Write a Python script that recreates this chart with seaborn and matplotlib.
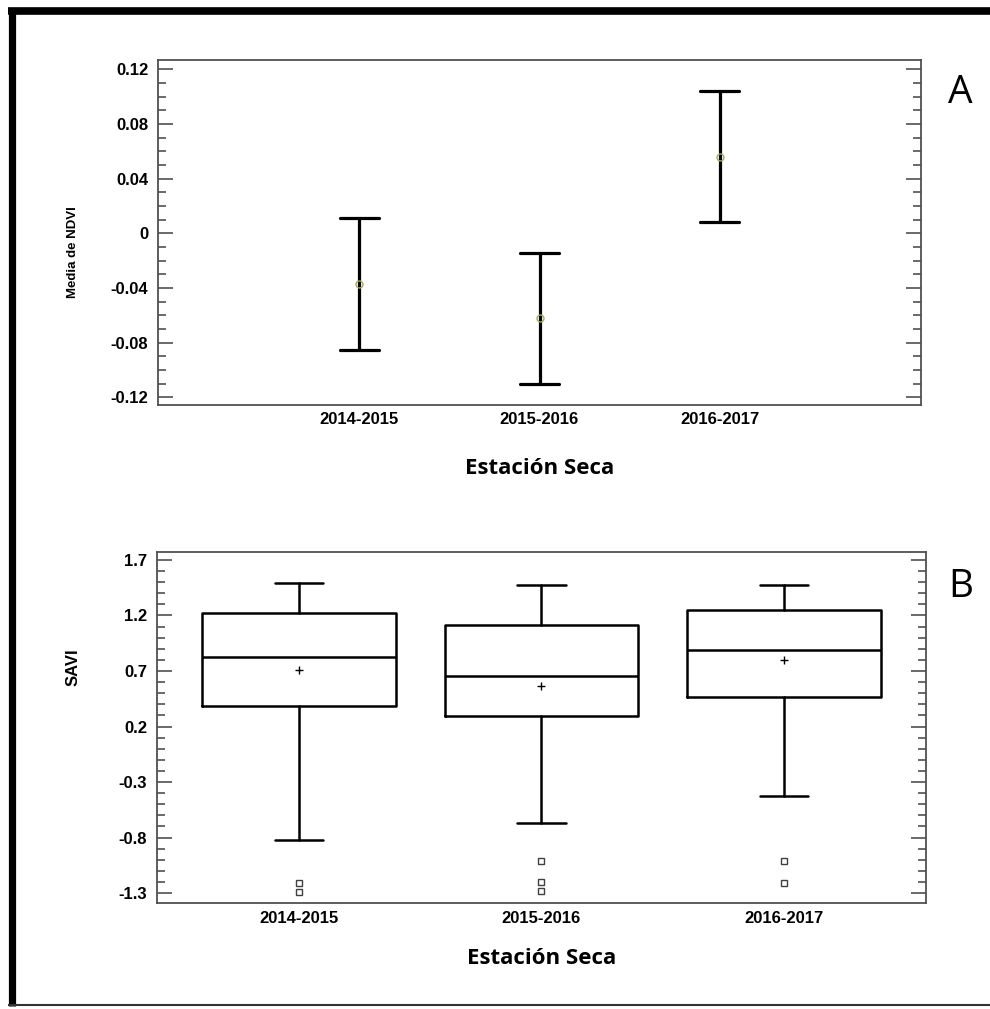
import numpy as np
import pandas as pd
import matplotlib
matplotlib.use("Agg")
import matplotlib.pyplot as plt
import seaborn as sns
from matplotlib.ticker import FixedLocator, FuncFormatter
from matplotlib.lines import Line2D

# ---------------- data ----------------
periods = ["2014-2015", "2015-2016", "2016-2017"]

# Panel A: interval limits of the NDVI mean (centre = mean)
ndvi_low = [-0.085, -0.110, 0.008]
ndvi_high = [0.011, -0.014, 0.104]
ndvi_ticks = [-0.12, -0.08, -0.04, 0.0, 0.04, 0.08, 0.12]

# Panel B: SAVI box-plot summaries
savi_whislo = [-0.823, -0.669, -0.425]
savi_q1 = [0.389, 0.299, 0.470]
savi_median = [0.823, 0.651, 0.886]
savi_q3 = [1.221, 1.112, 1.248]
savi_whishi = [1.492, 1.474, 1.474]
savi_mean = [0.705, 0.561, 0.796]
savi_outliers = [[-1.211, -1.293], [-1.012, -1.202, -1.284], [-1.012, -1.211]]
savi_ticks = [-1.3, -0.8, -0.3, 0.2, 0.7, 1.2, 1.7]

xlabel_text = "Estación Seca"

# ---------------- style ----------------
sns.set_style("white")
plt.rcParams["font.family"] = ["Liberation Sans", "DejaVu Sans"]
plt.rcParams["text.color"] = "black"
plt.rcParams["axes.labelcolor"] = "black"
spine_col = "#505050"

W, H = 990, 1009
fig = plt.figure(figsize=(W / 100, H / 100), dpi=100)


def fx(px):
    return px / W


def fy(py):
    return 1 - py / H


ax1 = fig.add_axes([fx(158), fy(405), fx(921) - fx(158), fy(60) - fy(405)])
ax2 = fig.add_axes([fx(157), fy(903), fx(926) - fx(157), fy(552) - fy(903)])

# ---------------- panel A ----------------
df_a = pd.DataFrame({"period": periods + periods, "ndvi": ndvi_low + ndvi_high})
sns.pointplot(
    data=df_a, x="period", y="ndvi", order=periods, estimator="mean",
    errorbar=("pi", 100), capsize=0.217, color="black", linestyle="none",
    marker="o", markersize=5, markerfacecolor="none", markeredgecolor="#a4aa5c",
    markeredgewidth=1.0, err_kws={"linewidth": 2.3, "color": "black"},
    ax=ax1,
)
for ln in ax1.lines:
    if ln.get_marker() not in (None, "None", "", " "):
        ln.set_zorder(5)
ax1.set_xlim(-1.117, 3.117)
ax1.set_ylim(-0.1255, 0.1268)
ax1.yaxis.set_major_locator(FixedLocator(ndvi_ticks))
ax1.yaxis.set_minor_locator(FixedLocator(np.round(np.arange(-0.12, 0.1201, 0.01), 3)))
ax1.yaxis.set_major_formatter(FuncFormatter(lambda v, p: "0" if abs(v) < 1e-9 else f"{v:.2f}"))
ax1.set_ylabel("Media de NDVI", fontsize=9.5, fontweight="bold")
ax1.yaxis.set_label_coords(-0.104, 0.443)
ax1.set_xlabel("")

# ---------------- panel B ----------------
stats = []
for i, p in enumerate(periods):
    stats.append(dict(label=p, whislo=savi_whislo[i], q1=savi_q1[i], med=savi_median[i],
                      q3=savi_q3[i], whishi=savi_whishi[i], mean=savi_mean[i],
                      fliers=np.array(savi_outliers[i])))
lw = 1.8
ax2.bxp(stats, positions=range(len(periods)), widths=0.8, capwidths=0.2,
        showmeans=True, showfliers=True, patch_artist=False,
        boxprops=dict(color="black", linewidth=lw),
        whiskerprops=dict(color="black", linewidth=lw),
        capprops=dict(color="black", linewidth=lw),
        medianprops=dict(color="black", linewidth=lw),
        meanprops=dict(marker="+", markeredgecolor="black", markersize=6, markeredgewidth=1.0),
        flierprops=dict(marker="s", markerfacecolor="none", markeredgecolor="#404040",
                        markersize=5, markeredgewidth=1.0))
ax2.set_xlim(-0.587, 2.587)
ax2.set_ylim(-1.39, 1.772)
ax2.yaxis.set_major_locator(FixedLocator(savi_ticks))
ax2.yaxis.set_minor_locator(FixedLocator(np.round(np.arange(-1.3, 1.7001, 0.1), 2)))
ax2.yaxis.set_major_formatter(FuncFormatter(lambda v, p: f"{v:.1f}"))
ax2.set_ylabel("SAVI", fontsize=12, fontweight="bold")
ax2.yaxis.set_label_coords(-0.100, 0.672)

# ---------------- common axis styling ----------------
for ax, xpad, xl_y in ((ax1, 5, -0.155), (ax2, 6, -0.128)):
    for s in ax.spines.values():
        s.set_color(spine_col)
        s.set_linewidth(1.3)
    ax.tick_params(axis="y", which="both", direction="in", left=True, right=True,
                   labelleft=True, labelright=False, color=spine_col, width=1.2, pad=7,
                   labelcolor="black")
    ax.tick_params(axis="y", which="major", length=10.8)
    ax.tick_params(axis="y", which="minor", length=5.8)
    ax.tick_params(axis="x", which="both", length=0, pad=xpad, labelcolor="black")
    for t in ax.get_yticklabels() + ax.get_xticklabels():
        t.set_fontsize(12)
        t.set_fontweight("bold")
    ax.set_xlabel(xlabel_text, fontsize=16, fontweight="bold",
                  family=["Open Sans", "DejaVu Sans"], va="top")
    ax.xaxis.set_label_coords(0.5, xl_y)
    ax.grid(False)

# panel letters
fig.text(fx(960), fy(93), "A", fontsize=28, ha="center", va="center",
         family=["Open Sans", "DejaVu Sans"])
fig.text(fx(961), fy(587), "B", fontsize=28, ha="center", va="center",
         family=["Open Sans", "DejaVu Sans"])

# outer frame
fig.add_artist(Line2D([fx(11.5), fx(11.5)], [fy(8), fy(1006)], color="black", linewidth=5.2,
                      solid_capstyle="butt"))
fig.add_artist(Line2D([fx(8), fx(995)], [fy(11), fy(11)], color="black", linewidth=5.5,
                      solid_capstyle="butt"))
fig.add_artist(Line2D([fx(8), fx(995)], [fy(1005), fy(1005)], color="#333333", linewidth=1.5,
                      solid_capstyle="butt"))

fig.savefig("out.png", dpi=100)
